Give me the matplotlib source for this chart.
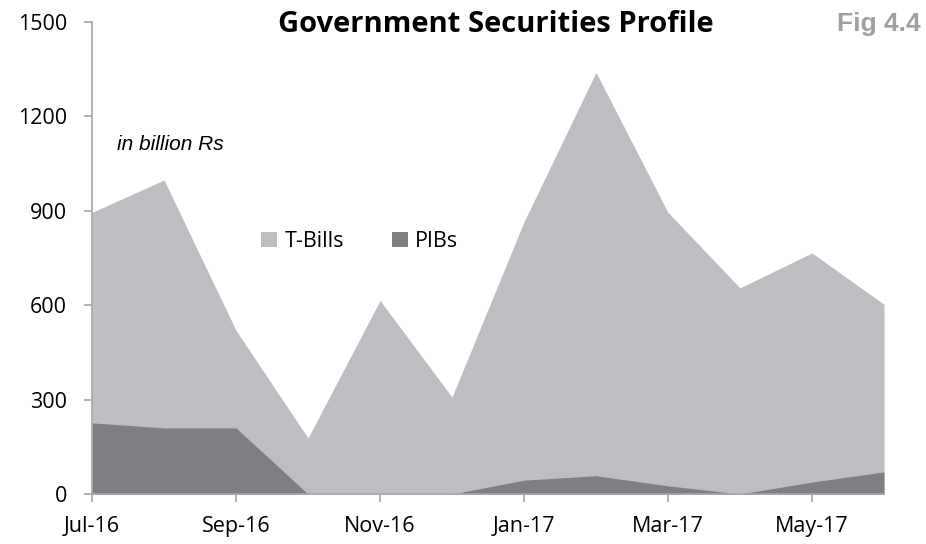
import matplotlib.pyplot as plt

# dados (bilhões de Rs)
months = ['Jul-16', 'Aug-16', 'Sep-16', 'Oct-16', 'Nov-16', 'Dec-16',
          'Jan-17', 'Feb-17', 'Mar-17', 'Apr-17', 'May-17', 'Jun-17']
tbills = [895, 998, 520, 178, 615, 308, 865, 1340, 895, 655, 766, 603]
pibs = [226, 210, 210, 0, 0, 0, 44, 58, 26, 0, 38, 70]

x = list(range(len(months)))

fig = plt.figure(figsize=(9.26, 5.44), dpi=100)
ax = fig.add_axes([0.0994, 0.0919, 0.8552, 0.8677])

ax.fill_between(x, 0, tbills, color='#BDBEC2', linewidth=0, label='T-Bills')
ax.fill_between(x, 0, pibs, color='#7E7F83', linewidth=0, label='PIBs')

ax.set_xlim(0, len(months) - 1)
ax.set_ylim(0, 1500)
ax.set_yticks([0, 300, 600, 900, 1200, 1500])
ax.set_xticks(x[::2])
ax.set_xticklabels(months[::2])

for s in ['top', 'right']:
    ax.spines[s].set_visible(False)
for s in ['left', 'bottom']:
    ax.spines[s].set_color('#A6A6A6')
    ax.spines[s].set_linewidth(1.2)
ax.tick_params(axis='both', colors='#A6A6A6', length=6, width=1.2,
               labelcolor='black', labelsize=15.5)
ax.tick_params(axis='y', pad=12)
ax.tick_params(axis='x', pad=10)
for lab in ax.get_xticklabels() + ax.get_yticklabels():
    lab.set_fontfamily('Open Sans')

ax.legend(loc='center', bbox_to_anchor=(0.338, 0.535), ncol=2, frameon=False,
          prop={'family': 'Open Sans', 'size': 15.5}, handlelength=0.75,
          handleheight=0.75, handletextpad=0.35, columnspacing=2.2)

fig.text(0.535, 0.955, 'Government Securities Profile', ha='center', va='center',
         fontsize=21, fontweight='bold', family='Open Sans')
fig.text(0.994, 0.955, 'Fig 4.4', ha='right', va='center', fontsize=19,
         fontweight='bold', color='#A0A0A0', family='Liberation Sans')
ax.text(0.031, 0.74, 'in billion Rs', transform=ax.transAxes, fontsize=15,
        style='italic', family='Liberation Sans', va='center')

fig.savefig('out.png', dpi=100)
